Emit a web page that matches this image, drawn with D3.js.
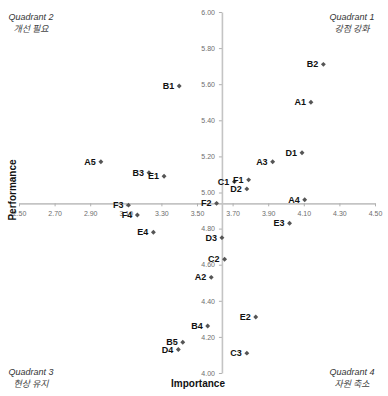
<!DOCTYPE html>
<html>
<head>
<meta charset="utf-8">
<script src="https://cdn.jsdelivr.net/npm/d3@7"></script>
<style>
  body { margin: 0; background: #fff; }
  svg { display: block; font-family: "Liberation Sans", Arial, sans-serif; }
</style>
</head>
<body>
<div id="chart"></div>
<script>
// ------- Data -------
const codes = ["A1", "A2", "A3", "A4", "A5", "B1", "B2", "B3", "B4", "B5",
  "C1", "C2", "C3", "D1", "D2", "D3", "D4", "E1", "E2", "E3", "E4",
  "F1", "F2", "F3", "F4"];
const importance = [4.14, 3.58, 3.925, 4.105, 2.96, 3.40, 4.21, 3.23, 3.56, 3.42,
  3.71, 3.655, 3.78, 4.09, 3.78, 3.64, 3.395, 3.315, 3.83, 4.02, 3.255,
  3.79, 3.61, 3.115, 3.165];
const performance = [5.50, 4.53, 5.17, 4.96, 5.17, 5.59, 5.71, 5.11, 4.26, 4.17,
  5.06, 4.63, 4.11, 5.22, 5.02, 4.75, 4.13, 5.09, 4.31, 4.83, 4.78,
  5.07, 4.94, 4.93, 4.875];

const xTicks = [2.5, 2.7, 2.9, 3.1, 3.3, 3.5, 3.7, 3.9, 4.1, 4.3, 4.5];
const yTicks = [4.0, 4.2, 4.4, 4.6, 4.8, 5.0, 5.2, 5.4, 5.6, 5.8, 6.0];

// axis crossing point (mean importance / mean performance)
const crossX = 3.64;
const crossY = 4.94;

const quadrants = [
  { name: "Quadrant 2", kr: "개선 필요", side: "left", top: true },
  { name: "Quadrant 1", kr: "강점 강화", side: "right", top: true },
  { name: "Quadrant 3", kr: "현상 유지", side: "left", top: false },
  { name: "Quadrant 4", kr: "자원 축소", side: "right", top: false },
];

const points = codes.map((c, i) => ({ code: c, x: importance[i], y: performance[i] }));

// ------- SVG setup -------
const width = 388;
const height = 396;

const svg = d3.select("#chart")
  .append("svg")
  .attr("width", width)
  .attr("height", height);

const x = d3.scaleLinear().domain([2.5, 4.5]).range([19, 375]);
const y = d3.scaleLinear().domain([4.0, 6.0]).range([373, 12]);

// ------- Axes -------
const xAxisG = svg.append("g")
  .attr("transform", `translate(0,${y(crossY)})`)
  .call(d3.axisBottom(x).tickValues(xTicks).tickFormat(d3.format(".2f"))
    .tickSize(3).tickSizeOuter(0).tickPadding(5));

const yAxisG = svg.append("g")
  .attr("transform", `translate(${x(crossX)},0)`)
  .call(d3.axisLeft(y).tickValues(yTicks).tickFormat(d3.format(".2f"))
    .tickSize(3).tickSizeOuter(0).tickPadding(4));

[xAxisG, yAxisG].forEach((g) => {
  g.select(".domain").attr("stroke", "#c4c4c4").attr("stroke-width", 1.6);
  g.selectAll(".tick line").attr("stroke", "#b0b0b0");
  g.selectAll(".tick text")
    .attr("fill", "#6e6e6e")
    .style("font-size", "7px");
});

// ------- Points -------
const pg = svg.append("g");
const marker = d3.symbol().type(d3.symbolSquare).size(12);

pg.selectAll("path.pt")
  .data(points)
  .join("path")
  .attr("class", "pt")
  .attr("d", marker)
  .attr("transform", (d) => `translate(${x(d.x)},${y(d.y)}) rotate(45)`)
  .attr("fill", "#555");

pg.selectAll("text.lbl")
  .data(points)
  .join("text")
  .attr("class", "lbl")
  .attr("x", (d) => x(d.x) - 5)
  .attr("y", (d) => y(d.y))
  .attr("dy", "0.35em")
  .attr("text-anchor", "end")
  .style("font-size", "9px")
  .style("font-weight", "bold")
  .attr("fill", "#111")
  .text((d) => d.code);

// ------- Axis titles -------
svg.append("text")
  .attr("x", 198)
  .attr("y", 387)
  .attr("text-anchor", "middle")
  .style("font-size", "10px")
  .style("font-weight", "bold")
  .attr("fill", "#111")
  .text("Importance");

svg.append("text")
  .attr("transform", "translate(16,190) rotate(-90)")
  .attr("text-anchor", "middle")
  .style("font-size", "10px")
  .style("font-weight", "bold")
  .attr("fill", "#111")
  .text("Performance");

// ------- Quadrant labels -------
const qg = svg.append("g");
quadrants.forEach((q) => {
  const cx = q.side === "left" ? 31 : 352;
  const by = q.top ? 20 : 375;
  qg.append("text")
    .attr("x", cx)
    .attr("y", by)
    .attr("text-anchor", "middle")
    .style("font-size", "9px")
    .style("font-style", "italic")
    .attr("fill", "#333")
    .text(q.name);
  qg.append("text")
    .attr("x", cx)
    .attr("y", by + 11.5)
    .attr("text-anchor", "middle")
    .style("font-size", "9px")
    .style("font-style", "italic")
    .style("font-family", "'Noto Sans CJK KR', sans-serif")
    .attr("fill", "#444")
    .text(q.kr);
});
</script>
</body>
</html>
